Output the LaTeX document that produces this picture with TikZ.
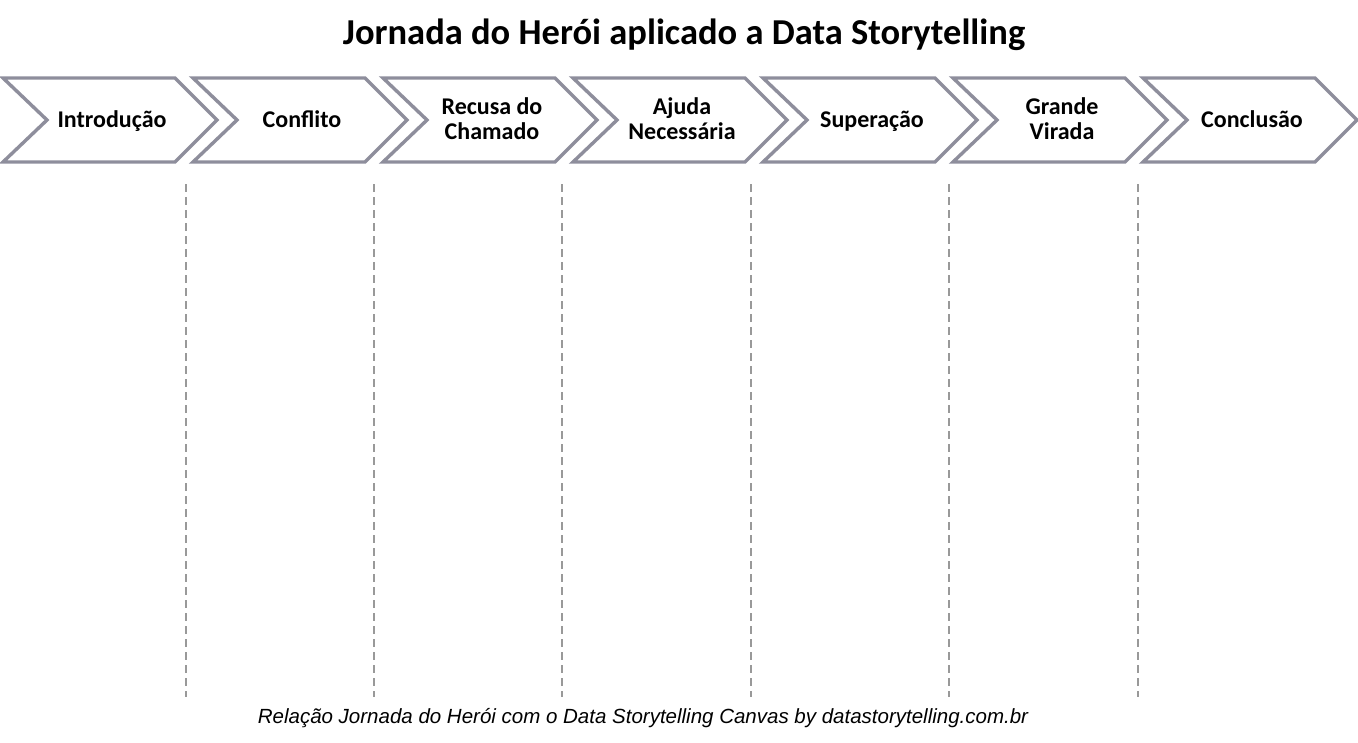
\documentclass[tikz,border=0pt]{standalone}
\usepackage{fontspec}
\setmainfont{Carlito}
\newfontfamily\capfont{Liberation Sans}
\definecolor{chevgray}{HTML}{8E8E9C}
\definecolor{dashgray}{HTML}{999999}
\begin{document}
\begin{tikzpicture}[x=1pt,y=-1pt,
  chevron/.style={draw=chevgray,line width=3.4pt,line join=miter,fill=white},
  chevlabel/.style={font=\bfseries\fontsize{24}{25}\selectfont,align=center,inner sep=0pt},
  sepline/.style={draw=dashgray,line width=1.4pt,dash pattern=on 8pt off 5pt}]
\useasboundingbox (0,0) rectangle (1358,742);
\node[font=\bfseries\fontsize{36.5}{38}\selectfont,inner sep=0pt] (title) at (684,35) {Jornada do Herói aplicado a Data Storytelling};
\foreach \i/\t in {0/{Introdução\strut},1/{Conflito\strut},2/{Recusa do\strut\\Chamado\strut},3/{Ajuda\strut\\Necessária\strut},4/{Superação\strut},5/{Grande\strut\\Virada\strut},6/{Conclusão\strut}}{
  \pgfmathsetmacro{\xo}{3+190*\i}
  \draw[chevron] (\xo,78) -- ++(172,0) -- ++(42,42) -- ++(-42,42) -- ++(-172,0) -- ++(44,-42) -- cycle;
  \node[chevlabel] (c\i) at (\xo+109,122) {\t};
}
\foreach \j/\x in {1/186,2/374,3/562,4/751,5/949,6/1138}{
  \coordinate (t\j) at (\x,184);
  \coordinate (b\j) at (\x,697);
  \draw[sepline] (t\j) -- (b\j);
}
\node[font=\capfont\itshape\fontsize{20.5}{22}\selectfont,inner sep=0pt] (caption) at (643,718) {Relação Jornada do Herói com o Data Storytelling Canvas by datastorytelling.com.br};
\end{tikzpicture}
\end{document}
